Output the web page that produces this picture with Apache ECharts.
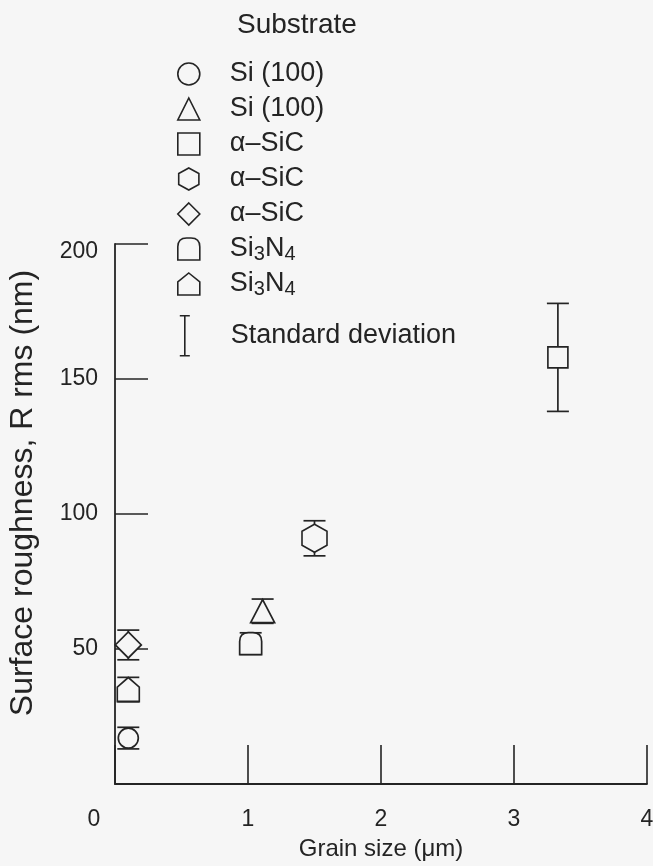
<!DOCTYPE html>
<html>
<head>
<meta charset="utf-8">
<script src="https://cdn.jsdelivr.net/npm/echarts@6/dist/echarts.min.js"></script>
<style>
  html, body { margin: 0; padding: 0; background: #f6f6f6; }
  #chart { width: 653px; height: 866px; }
</style>
</head>
<body>
<div id="chart"></div>
<script>
// one entry per substrate series
const seriesKeys = ['si100Circle', 'si100Triangle', 'sicSquare', 'sicHexagon', 'sicDiamond', 'sinDome', 'sinHouse'];
const seriesLabels = ['Si (100)', 'Si (100)', 'α–SiC', 'α–SiC', 'α–SiC', 'Si{sub|3}N{sub|4}', 'Si{sub|3}N{sub|4}'];
const grainSize = [0.1, 1.11, 3.33, 1.5, 0.1, 1.02, 0.1];
const roughness = [17, 64, 158, 91, 51.5, 52, 35];
const stdDev = [4, 4.5, 20, 6.5, 5.5, 4, 4.5];
const xTicks = [0, 1, 2, 3, 4];
const yTicks = [50, 100, 150, 200];

const ink = '#242424';
const paper = '#f6f6f6';
const font = 'Liberation Sans, Arial, sans-serif';

const symbols = {
  si100Circle: { symbol: 'circle', size: [20, 20] },
  si100Triangle: { symbol: 'triangle', size: [24, 23] },
  sicSquare: { symbol: 'rect', size: [20, 21] },
  sicHexagon: { symbol: 'path://M11,0 L22,6 L22,18 L11,24 L0,18 L0,6 Z', size: [25, 28] },
  sicDiamond: { symbol: 'diamond', size: [26, 26] },
  sinDome: { symbol: 'path://M0,20 L0,8 Q0,0 8,0 L12,0 Q20,0 20,8 L20,20 Z', size: [22, 22] },
  sinHouse: { symbol: 'path://M10,0 L20,8 L20,20 L0,20 L0,8 Z', size: [22, 24] },
};

const labelFor = {};
seriesKeys.forEach((k, i) => { labelFor[k] = seriesLabels[i]; });

const errorData = grainSize.map((x, i) => [x, roughness[i] - stdDev[i], roughness[i] + stdDev[i]]);

const chart = echarts.init(document.getElementById('chart'));

const scatterSeries = seriesKeys.map((k, i) => ({
  name: k,
  type: 'scatter',
  symbol: symbols[k].symbol,
  symbolSize: symbols[k].size,
  z: 5,
  itemStyle: { color: paper, borderColor: ink, borderWidth: 1.7, opacity: 1 },
  data: [[grainSize[i], roughness[i]]],
}));

const option = {
  backgroundColor: paper,
  animation: false,
  textStyle: { fontFamily: font, color: ink },
  title: {
    text: 'Substrate',
    left: 232,
    top: 6,
    textStyle: { fontFamily: font, fontSize: 28, fontWeight: 'normal', color: ink },
  },
  legend: [
    {
      orient: 'vertical',
      left: 172,
      top: 54,
      itemWidth: 22,
      itemHeight: 22,
      itemGap: 5,
      selectedMode: false,
      data: seriesKeys.map((k) => ({ name: k, icon: symbols[k].symbol })),
      formatter: (name) => labelFor[name],
      itemStyle: { color: paper, borderColor: ink, borderWidth: 1.6 },
      textStyle: {
        fontFamily: font,
        fontSize: 27,
        lineHeight: 30,
        color: ink,
        padding: [0, 0, 0, 25],
        rich: {
          sub: { fontFamily: font, fontSize: 20, lineHeight: 10, verticalAlign: 'bottom', color: ink },
        },
      },
    },
    {
      orient: 'vertical',
      left: 174,
      top: 310,
      itemWidth: 20,
      itemHeight: 40,
      selectedMode: false,
      data: [{ name: 'Standard deviation', icon: 'path://M0,0 L10,0 M5,0 L5,40 M0,40 L10,40' }],
      itemStyle: { color: 'transparent', borderColor: ink, borderWidth: 1.6 },
      textStyle: { fontFamily: font, fontSize: 27, color: ink, padding: [0, 0, 0, 31] },
    },
  ],
  grid: { left: 115, right: 6, top: 244, bottom: 82, containLabel: false, outerBoundsMode: 'none' },
  xAxis: {
    type: 'value',
    min: xTicks[0],
    max: xTicks[xTicks.length - 1],
    interval: 1,
    name: 'Grain size (μm)',
    nameLocation: 'middle',
    nameGap: 53,
    nameTextStyle: { fontFamily: font, fontSize: 24, color: ink },
    splitLine: { show: false },
    axisLine: { lineStyle: { color: ink, width: 1.8 } },
    axisTick: { inside: true, length: 39, lineStyle: { color: ink, width: 1.6 } },
    axisLabel: {
      margin: 24,
      fontFamily: font,
      fontSize: 23,
      color: ink,
      formatter: (v) => (v === 0 ? '{z|0}' : String(v)),
      rich: { z: { fontFamily: font, fontSize: 23, color: ink, padding: [0, 42, 0, 0] } },
    },
  },
  yAxis: {
    type: 'value',
    min: 0,
    max: yTicks[yTicks.length - 1],
    interval: 50,
    name: 'Surface roughness, R rms (nm)',
    nameLocation: 'middle',
    nameGap: 76,
    nameTextStyle: { fontFamily: font, fontSize: 32, color: ink, padding: [0, 0, 0, 42] },
    splitLine: { show: false },
    axisLine: { lineStyle: { color: ink, width: 1.8 } },
    axisTick: { inside: true, length: 33, lineStyle: { color: ink, width: 1.6 } },
    axisLabel: {
      margin: 17,
      fontFamily: font,
      fontSize: 23,
      color: ink,
      formatter: (v) => {
        if (v === 0) return '';
        if (v === 200) return '{t|200}';
        return String(v);
      },
      rich: { t: { fontFamily: font, fontSize: 23, color: ink, padding: [16, 0, 0, 0] } },
    },
  },
  series: [
    {
      name: 'Standard deviation',
      type: 'custom',
      z: 2,
      itemStyle: { color: ink },
      encode: { x: 0, y: [1, 2] },
      renderItem: (params, api) => {
        const x = api.value(0);
        const lo = api.coord([x, api.value(1)]);
        const hi = api.coord([x, api.value(2)]);
        const half = 11;
        const style = { stroke: ink, lineWidth: 1.7, fill: null };
        return {
          type: 'group',
          children: [
            { type: 'line', shape: { x1: lo[0], y1: lo[1], x2: hi[0], y2: hi[1] }, style },
            { type: 'line', shape: { x1: lo[0] - half, y1: lo[1], x2: lo[0] + half, y2: lo[1] }, style },
            { type: 'line', shape: { x1: hi[0] - half, y1: hi[1], x2: hi[0] + half, y2: hi[1] }, style },
          ],
        };
      },
      data: errorData,
    },
    ...scatterSeries,
  ],
};

chart.setOption(option);
</script>
</body>
</html>
